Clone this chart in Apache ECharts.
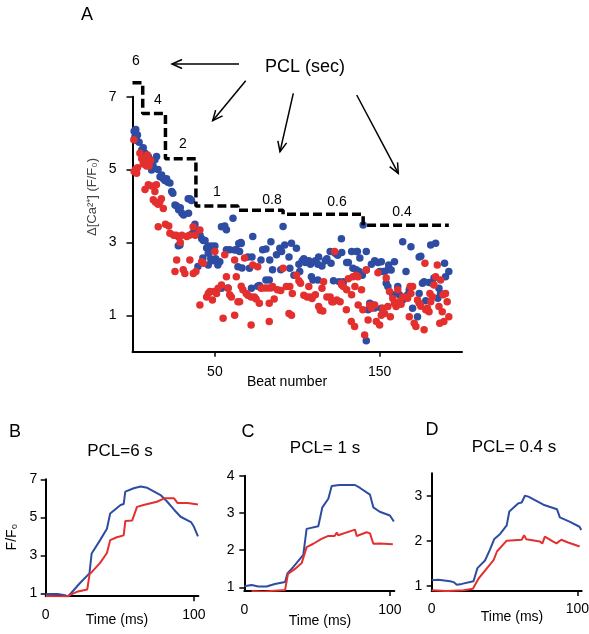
<!DOCTYPE html>
<html><head><meta charset="utf-8">
<script src="https://cdn.jsdelivr.net/npm/echarts@6/dist/echarts.min.js"></script>
<style>html,body{margin:0;padding:0;background:#fff}#c{width:589px;height:634px}</style>
</head><body><div id="c"></div>
<script>
const FONT = '"Liberation Sans", Arial, Helvetica, sans-serif';
const BLUE = '#2D4CA2';
const RED = '#E3302F';

// ---------- Panel A: beat-to-beat Ca transient amplitude ----------
const blueBeat = [1,1.5,2,2.5,3,4,5.6,6.5,7.6,8.5,9.6,10.5,11.6,12.5,13.6,14.6,15.5,16.7,17.7,18.7,19.7,20.7,21.5,22.7,23.8,24.5,25.8,26.8,27.8,28,28.8,29,30,31,33.8,34,34.8,35.8,36.5,37.9,38.9,39.7,
41,42,42.7,43,44,45,46,46,46,47,47.5,48,49,49,50,50.5,51.8,53,54,54,56,57,57,58,59,61,62,63,64,64.5,65,65.8,66,66.5,
70,71,72.2,72.5,73,76,77,78,79,81,81,83,83.3,84,85,87.4,89.4,90,90.5,91.4,92.4,95,95.5,96.5,98,99.5,
101,101.5,103,104,105,107,108,108.6,109.5,111,112.5,112.5,113,115,117,118,120,120.5,122,123,124.5,125.5,126.8,127,128,130,131,133,133.8,135.8,136,136.5,137.5,138,139.5,140,141.9,141.9,141.9,
143,144,145,146,147,147,149,150,151,151,152,153,154,155,155,155.5,157,158,159,160,161,162,164,164,166,167,168,169,170,173,174,174,175,176,177,178,180,181,182,183,184,185.3,186,187,189.4,190,192];
const blueVal = [6.05,5.9,6.1,5.8,5.95,5.75,5.54,5.6,5.45,5.35,5.36,5.2,4.99,5.1,5.27,5.36,5.0,4.8,4.85,4.75,4.7,4.75,4.65,4.63,4.4,4.35,4.03,4.0,2.91,3.9,2.93,3.95,3.8,3.75,4.2,3.8,4.2,4.15,3.25,3.5,3.34,2.34,
3.2,3.1,2.57,3.05,3.05,2.85,2.9,2.7,2.38,2.88,2.55,2.9,2.85,2.5,2.9,2.55,2.38,2.47,3.43,1.74,3.45,3.35,2.8,1.75,2.8,3.66,2.79,2.8,2.33,2.97,2.75,3.0,2.97,2.3,
2.6,2.29,1.74,2.6,3.16,1.8,1.82,2.52,2.8,2.82,1.97,1.97,2.52,3.02,2.25,2.66,2.84,2.25,2.75,3.44,2.93,2.6,2.29,2.98,2.1,2.84,
2.4,2.2,2.5,2.55,2.45,2.5,2.4,2.06,1.97,2.5,2.4,1.97,2.6,2.35,2.5,2.55,2.75,2.43,1.95,2.7,2.65,1.92,3.1,2.72,1.92,2.45,2.45,2.75,2.29,2.25,2.75,2.75,2.2,2.57,2.1,3.48,2.75,2.24,0.3,
1.15,1.33,2.4,1.28,2.5,1.2,2.45,2.2,2.47,1.19,2.2,2.2,1.88,2.25,1.79,2.38,2.24,1.56,2.47,1.3,1.79,1.56,1.42,3.02,2.2,1.56,1.7,2.88,1.19,0.96,2.6,1.6,2.62,1.88,1.92,1.4,1.9,2.93,1.88,2.02,2.98,1.47,1.74,1.6,2.43,2.06,2.2];

const redBeat = [0.8,1,1.8,2.5,3,4.5,5.6,6.5,7.5,7.6,8.5,9,9.6,10,11,11.6,12.6,13.6,14,14.5,15.5,15.6,16.5,17.5,18.7,20,22,22.7,25,25.8,26.5,26.8,28,29,30,30.8,31.8,33,34.5,34.8,36.8,36.9,38,38.5,40.9,40.9,42,43,
45,46,47,48.5,49.5,50,51,52,54,55,56,57,58,59,60,62,62,63,64,65,66,67,68,69,70,72,72,73,74,75,76,77,78,80,82,83,83,84,85,86,88,90,91.4,93.4,95,95.5,96.5,97,
99.5,101,102,104,106,107,108,109,111,113,114,115,115.5,116,118,120,121,122,122.7,124,126,126.8,127,128,129.8,130,131,132.8,133,133.8,134.8,135,135.8,136.8,137,139,139.8,140.9,
141.9,143,144,145,147,148,149,150,151,152,153,154,155,156,156.5,158,159,160,161,162,163,164,166,167,168,168.5,169,170,171,172,173,174,175,177,177.5,178,179,180,180.5,181,182,183,184,185,186,186.5,187,188,188.5,189,190,191,192];
const redVal = [5.82,4.95,5.0,4.9,5.05,5.45,5.3,5.15,5.2,4.45,5.1,5.4,4.58,5.1,5.25,4.55,4.17,4.4,4.1,4.58,4.05,3.43,4.1,4.2,3.93,3.5,3.45,3.25,3.2,2.2,3.2,2.52,3.15,3.0,3.2,2.25,2.15,3.16,3.2,2.52,3.43,2.15,3.2,2.2,3.34,1.28,2.47,2.43,
1.5,1.6,1.65,1.42,1.65,2.75,1.6,1.74,1.83,0.92,2.66,2.06,1.74,1.56,1.5,2.52,1.0,2.06,1.37,1.37,1.8,1.7,2.57,1.6,1.55,1.5,0.73,2.38,1.5,1.45,2.33,1.33,1.74,1.75,1.75,1.33,0.83,1.75,1.79,1.45,1.7,1.68,2.29,1.79,1.05,1.79,1.0,1.6,
2.1,1.95,1.88,1.55,1.5,1.79,1.5,1.46,1.56,1.24,1.14,1.74,1.12,1.92,1.5,1.5,1.37,1.37,2.75,1.42,1.37,1.88,1.83,1.79,1.15,1.7,2.0,0.83,1.56,2.06,0.69,1.79,2.1,2.06,1.28,1.7,1.15,0.46,
2.24,0.87,1.28,1.19,1.28,0.83,2.17,0.73,1.0,1.19,1.05,2.02,1.24,1.65,0.96,1.46,1.33,1.24,1.7,1.37,1.3,1.5,1.5,1.47,0.96,1.79,1.6,1.79,0.78,0.69,1.42,1.33,1.25,0.6,2.43,1.15,1.19,1.1,1.6,1.37,1.51,1.83,2.06,2.38,1.24,0.78,1.97,1.1,1.56,0.83,1.6,1.37,0.96];

// pacing cycle length step (dashed)
const stepBeat = [0, 6.2, 20, 38.5, 64, 91.4, 140, 192];
const stepVal  = [7.38, 6.54, 5.3, 4.0, 3.88, 3.77, 3.47, 3.47];
const pclLabels = ['6','4','2','1','0.8','0.6','0.4'];

// ---------- Panels B, C, D: transients (time in ms, F/F0) ----------
const bBlueT = [0,8,13,15,23,29.5,31,36.7,41.3,43.5,50.5,52.6,53.7,59.4,64,68.5,77.5,82,86.6,91,98,100,102.7];
const bBlueV = [0.96,0.96,0.9,0.82,1.53,2.05,3.1,3.8,4.4,5.2,5.65,5.7,6.35,6.53,6.62,6.55,6.17,5.82,5.4,5.03,4.75,4.5,4.0];
const bRedT = [0,14,21,28,29.6,36.7,41.3,43.5,48,52.6,53.7,58.3,59.4,61.6,66,75,80,86.6,89,95.8,102.7];
const bRedV = [0.86,0.83,1.08,1.2,2.0,2.6,3.12,3.8,3.95,4.05,4.8,4.83,4.92,5.55,5.65,5.82,6.0,6.0,5.75,5.75,5.68];

const cBlueT = [0,5,9.6,15.3,21,28,29.6,33.7,40.5,42.8,50.8,53.6,57.7,60,65.3,76,79.5,86.3,88.6,93,100,102.7];
const cBlueV = [1.03,1.06,1.02,1.02,1.09,1.14,1.37,1.55,1.87,2.57,2.64,3.15,3.38,3.72,3.75,3.75,3.67,3.49,3.15,3.03,2.93,2.77];
const cRedT = [5,13,21,28,30,35,39.4,42.8,47.4,53,57.7,62,63.5,64.5,76,77.2,84,86.3,88.6,93,102];
const cRedV = [0.9,0.88,0.91,0.93,1.36,1.5,1.65,2.08,2.17,2.3,2.38,2.38,2.47,2.4,2.55,2.38,2.48,2.45,2.17,2.18,2.16];

const dBlueT = [0,4.6,12.6,15,17.2,20.7,28.7,31.4,36.6,40,43,47,51.5,53.3,59.5,61.8,64,66.4,76.7,86,88,95,101.5,102.7];
const dBlueV = [1.12,1.13,1.1,1.08,1.02,1.04,1.1,1.39,1.56,1.8,2.04,2.15,2.34,2.65,2.83,2.85,3.0,2.98,2.8,2.7,2.52,2.42,2.31,2.24];
const dRedT = [0,10.3,21.8,28.3,32.2,38,42.5,44.8,51.5,61.8,63.5,65,74.3,76,77.7,83.4,85.7,89,93.7,101.6];
const dRedV = [0.9,0.88,0.9,0.93,1.16,1.39,1.57,1.76,2.0,2.02,2.12,2.03,1.98,1.94,2.09,1.98,1.94,2.02,1.96,1.87];

function zip(a, b) { return a.map((x, i) => [x, b[i]]); }

const AX = { color: '#000', width: 2 };
function xAxisDef(gi, max, ticks, labels, margin) {
  return {
    gridIndex: gi, type: 'value', min: 0, max: max,
    axisLine: { show: true, onZero: false, lineStyle: AX },
    axisTick: { show: true, customValues: ticks, length: 5, lineStyle: { color: '#000', width: 1.5 } },
    axisLabel: { show: true, customValues: labels, margin: margin, fontSize: 14, color: '#000', fontFamily: FONT, showMinLabel: true, showMaxLabel: true },
    splitLine: { show: false }
  };
}
function yAxisDef(gi, min, max, vals, margin, tlen) {
  return {
    gridIndex: gi, type: 'value', min: min, max: max,
    axisLine: { show: true, onZero: false, lineStyle: AX },
    axisTick: { show: true, customValues: vals, length: tlen, lineStyle: { color: '#000', width: 1.5 } },
    axisLabel: { show: true, customValues: vals, margin: margin, fontSize: 14, color: '#000', fontFamily: FONT, showMinLabel: true, showMaxLabel: true },
    splitLine: { show: false }
  };
}

function txt(text, x, y, size, extra) {
  return Object.assign({
    type: 'text', x: x, y: y, z: 100,
    style: { text: text, font: size + 'px ' + FONT, fill: '#000', textAlign: 'center', textVerticalAlign: 'middle', align: 'center', verticalAlign: 'middle' }
  }, extra || {});
}
function arrow(x1, y1, x2, y2) {
  const a = Math.atan2(y2 - y1, x2 - x1), L = 11, s = 0.42;
  return [
    { type: 'line', z: 100, shape: { x1: x1, y1: y1, x2: x2, y2: y2 }, style: { stroke: '#000', lineWidth: 1.5 } },
    { type: 'polyline', z: 100, shape: { points: [[x2 - L * Math.cos(a - s), y2 - L * Math.sin(a - s)], [x2, y2], [x2 - L * Math.cos(a + s), y2 - L * Math.sin(a + s)]] }, style: { stroke: '#000', lineWidth: 1.5, fill: null } }
  ];
}

const labelPos = [[136, 61], [158, 100], [183, 144], [217, 192], [272, 200], [337, 202], [402, 212]];
const graphics = [
  txt('A', 87, 15, 18),
  txt('PCL (sec)', 305, 67, 18),
  txt('Beat number', 287, 382, 14),
  txt('\u0394[Ca\u00B2\u207A] (F/F\u2080)', 92, 197, 13, { rotation: Math.PI / 2, style: { text: '\u0394[Ca\u00B2\u207A] (F/F\u2080)', font: '13px ' + FONT, fill: '#444', textAlign: 'center', textVerticalAlign: 'middle', align: 'center', verticalAlign: 'middle' } }),
  txt('B', 15, 432, 18), txt('C', 248, 432, 18), txt('D', 432, 430, 18),
  txt('PCL=6 s', 120, 451, 17), txt('PCL= 1 s', 325, 448, 17), txt('PCL= 0.4 s', 514, 447, 17),
  txt('Time (ms)', 117, 620, 14), txt('Time (ms)', 320, 621, 14), txt('Time (ms)', 512, 617, 14),
  txt('F/F\u2080', 12, 537, 14, { rotation: Math.PI / 2, style: { text: 'F/F\u2080', font: '14px ' + FONT, fill: '#000', textAlign: 'center', textVerticalAlign: 'middle', align: 'center', verticalAlign: 'middle' } })
].concat(pclLabels.map((t, i) => txt(t, labelPos[i][0], labelPos[i][1], 14)))
 .concat(arrow(239, 64, 172, 64), arrow(245.7, 80.7, 212.7, 120.7), arrow(293.3, 93.3, 280, 151.7), arrow(356.7, 95, 398.3, 173.3));

const lineS = (xi, t, v, color) => ({
  type: 'line', xAxisIndex: xi, yAxisIndex: xi, data: zip(t, v), symbol: 'none', smooth: false,
  lineStyle: { color: color, width: 2 }, silent: true, animation: false
});

const option = {
  animation: false,
  backgroundColor: '#fff',
  textStyle: { fontFamily: FONT },
  grid: [
    { left: 132.5, top: 96.7, width: 329.5, height: 255, outerBoundsMode: 'none', containLabel: false },
    { left: 45.7, top: 479.3, width: 152.7, height: 116.9, outerBoundsMode: 'none', containLabel: false },
    { left: 244.3, top: 475.7, width: 150, height: 115.3, outerBoundsMode: 'none', containLabel: false },
    { left: 431.7, top: 473.2, width: 150, height: 117.9, outerBoundsMode: 'none', containLabel: false }
  ],
  xAxis: [
    xAxisDef(0, 200, [50, 150], [50, 150], 13),
    xAxisDef(1, 103, [100], [0, 100], 12),
    xAxisDef(2, 103, [100], [0, 100], 12),
    xAxisDef(3, 103, [100], [0, 100], 11.5)
  ],
  yAxis: [
    yAxisDef(0, 0, 7, [1, 3, 5, 7], 16, 6),
    yAxisDef(1, 0.85, 7, [1, 3, 5, 7], 8.5, 5),
    yAxisDef(2, 0.9, 4, [1, 2, 3, 4], 9.7, 5),
    yAxisDef(3, 0.88, 3.5, [1, 2, 3], 9.5, 5)
  ],
  series: [
    { type: 'scatter', xAxisIndex: 0, yAxisIndex: 0, data: zip(blueBeat, blueVal), symbolSize: 7.5, itemStyle: { color: BLUE, opacity: 1 }, clip: false },
    { type: 'scatter', xAxisIndex: 0, yAxisIndex: 0, data: zip(redBeat, redVal), symbolSize: 7.5, itemStyle: { color: RED, opacity: 1 }, clip: false },
    { type: 'line', xAxisIndex: 0, yAxisIndex: 0, data: zip(stepBeat, stepVal), step: 'end', symbol: 'none', clip: false,
      lineStyle: { color: '#000', width: 3.5, type: [9, 4] }, z: 5 },
    lineS(1, bBlueT, bBlueV, BLUE), lineS(1, bRedT, bRedV, RED),
    lineS(2, cBlueT, cBlueV, BLUE), lineS(2, cRedT, cRedV, RED),
    lineS(3, dBlueT, dBlueV, BLUE), lineS(3, dRedT, dRedV, RED)
  ],
  graphic: { elements: graphics }
};

const chart = echarts.init(document.getElementById('c'), null, { renderer: 'canvas' });
chart.setOption(option);
</script>
</body></html>
